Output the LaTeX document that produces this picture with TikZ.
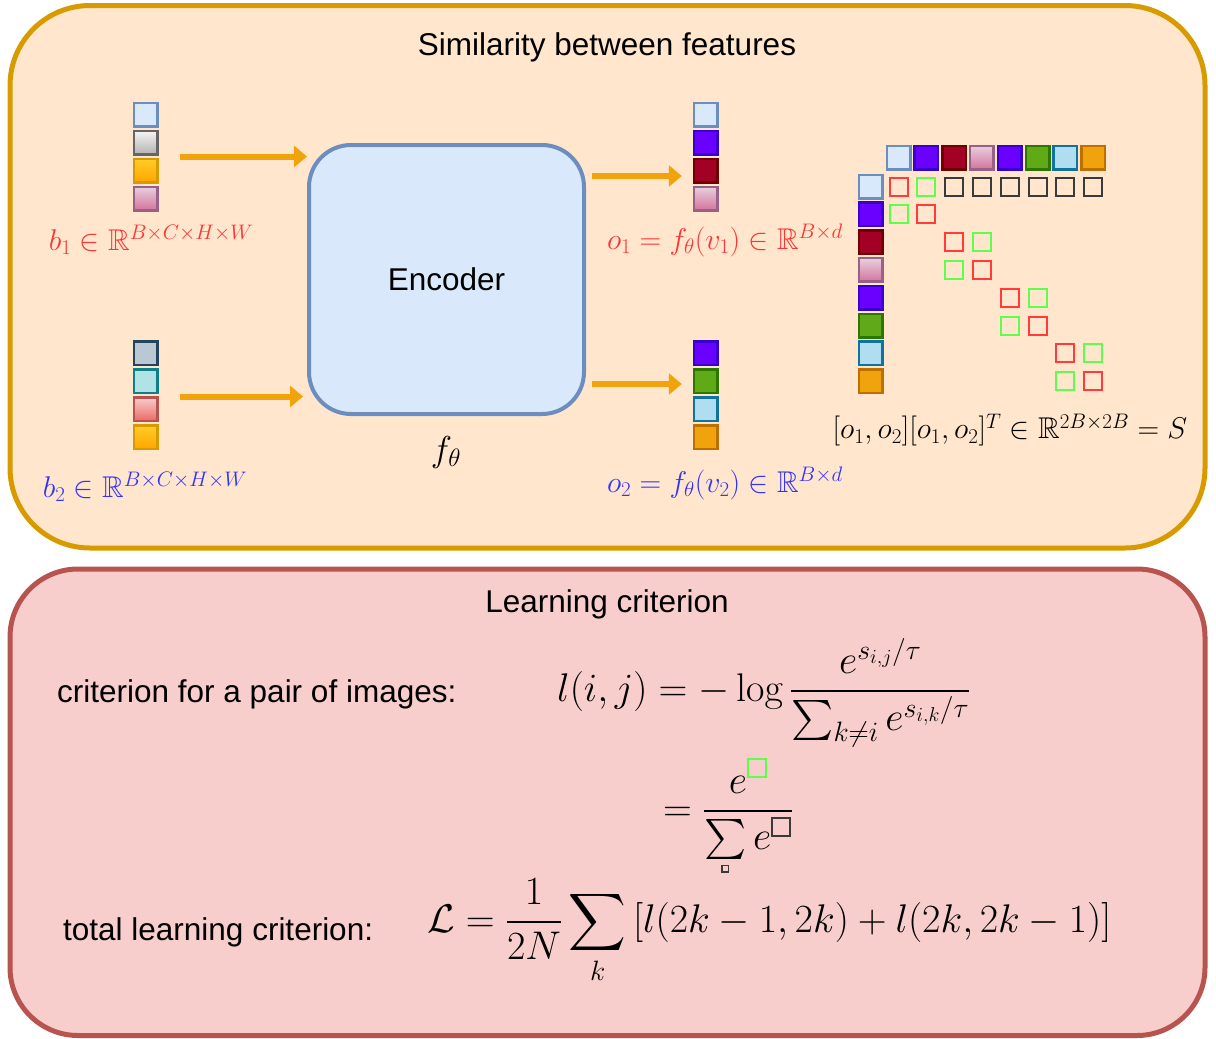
\documentclass[tikz,border=0pt]{standalone}
\usepackage{fix-cm}
\usepackage{amsmath,amssymb}
\usepackage[no-math]{fontspec}
\setmainfont{Liberation Sans}
\usetikzlibrary{arrows.meta}
\definecolor{topF}{HTML}{FFE6CC}\definecolor{topS}{HTML}{D79B00}
\definecolor{botF}{HTML}{F8CECC}\definecolor{botS}{HTML}{B85450}
\definecolor{encF}{HTML}{DAE8FC}\definecolor{encS}{HTML}{6C8EBF}
\definecolor{arrC}{HTML}{F0A30A}
\definecolor{labR}{HTML}{FF3333}\definecolor{labB}{HTML}{3333FF}
\definecolor{sqG}{HTML}{5CFF4C}\definecolor{sqR}{HTML}{FF3B3B}\definecolor{sqK}{HTML}{3A3A3A}
\newcommand\boxsq[3]{{\color{#1}\setlength\fboxrule{#3}\setlength\fboxsep{0pt}\fbox{\rule{0pt}{#2}\rule{#2}{0pt}}}}
\tikzset{
  panel/.style={rounded corners=#1, line width=5pt},
  cell/.style={draw, line width=2.5pt, minimum size=23.5pt, inner sep=0pt, outer sep=0pt},
  cBlue/.style={cell, fill=encF, draw=encS},
  cGray/.style={cell, top color=white!96!black, bottom color=black!30, draw=black!60},
  cOrange/.style={cell, top color={rgb,255:red,255;green,205;blue,40}, bottom color={rgb,255:red,255;green,165;blue,0}, draw=topS},
  cPink/.style={cell, top color={rgb,255:red,230;green,208;blue,222}, bottom color={rgb,255:red,213;green,115;blue,157}, draw={rgb,255:red,153;green,97;blue,133}},
  cSlate/.style={cell, fill={rgb,255:red,186;green,200;blue,211}, draw={rgb,255:red,35;green,68;blue,93}},
  cTeal/.style={cell, fill={rgb,255:red,176;green,227;blue,230}, draw={rgb,255:red,14;green,128;blue,136}},
  cRed/.style={cell, top color=botF, bottom color={rgb,255:red,234;green,107;blue,102}, draw=botS},
  cViolet/.style={cell, fill={rgb,255:red,106;green,0;blue,255}, draw={rgb,255:red,55;green,0;blue,204}},
  cCrimson/.style={cell, fill={rgb,255:red,162;green,0;blue,37}, draw={rgb,255:red,111;green,0;blue,0}},
  cGreen/.style={cell, fill={rgb,255:red,96;green,169;blue,23}, draw={rgb,255:red,45;green,118;blue,0}},
  cLight/.style={cell, fill={rgb,255:red,177;green,221;blue,240}, draw={rgb,255:red,16;green,115;blue,158}},
  cAmber/.style={cell, fill=arrC, draw={rgb,255:red,189;green,112;blue,0}},
  msq/.style={draw=#1, line width=2pt, minimum size=18pt, inner sep=0pt},
  arr/.style={draw=arrC, line width=6pt, -{Triangle[length=13pt,width=21pt]}},
  ttl/.style={font=\fontsize{31.5}{36}\selectfont, inner sep=0pt},
  lab/.style={font=\fontsize{30}{36}\selectfont, inner sep=0pt},
  fml/.style={font=\fontsize{40}{48}\selectfont, inner sep=0pt},
}
\begin{document}
\begin{tikzpicture}[x=1pt,y=-1pt]
\useasboundingbox (0,0) rectangle (1216,1039);
% panels
\draw[panel=80pt, draw=topS, fill=topF] (10,5.5) rectangle (1205,548);
\draw[panel=68pt, draw=botS, fill=botF] (10,569) rectangle (1205,1035.5);
\node[ttl] (t1) at (607,47) {Similarity between features};
\node[ttl] (t2) at (607,604) {Learning criterion};
% encoder
\node[draw=encS, fill=encF, line width=4pt, rounded corners=42pt, minimum width=275pt, minimum height=269pt, ttl] (enc) at (446.5,279.5) {Encoder};
\node[font=\fontsize{36}{42}\selectfont, inner sep=0pt] (ft) at (446,452) {$f_\theta$};
% input b1
\node[cBlue]   (b1a) at (145.5,114.5) {};
\node[cGray]   (b1b) at (145.5,142.5) {};
\node[cOrange] (b1c) at (145.5,170.5) {};
\node[cPink]   (b1d) at (145.5,198.5) {};
% input b2
\node[cSlate]  (b2a) at (145.5,353) {};
\node[cTeal]   (b2b) at (145.5,381) {};
\node[cRed]    (b2c) at (145.5,409) {};
\node[cOrange] (b2d) at (145.5,437) {};
% output o1
\node[cBlue]    (o1a) at (705.5,114.5) {};
\node[cViolet]  (o1b) at (705.5,142.5) {};
\node[cCrimson] (o1c) at (705.5,170.5) {};
\node[cPink]    (o1d) at (705.5,198.5) {};
% output o2
\node[cViolet] (o2a) at (705.5,353) {};
\node[cGreen]  (o2b) at (705.5,381) {};
\node[cLight]  (o2c) at (705.5,409) {};
\node[cAmber]  (o2d) at (705.5,437) {};
% arrows
\coordinate (b1m) at (145.5,156.5);
\coordinate (b2m) at (145.5,396.5);
\draw[arr, shorten <=34pt] (b1m) -- (b1m -| enc.west);
\draw[arr, shorten <=34pt, shorten >=4pt] (b2m) -- (b2m -| enc.west);
\coordinate (e1) at (446.5,176);
\coordinate (e2) at (446.5,384);
\draw[arr, shorten <=145pt, shorten >=12pt] (e1) -- (e1 -| o1a.west);
\draw[arr, shorten <=145pt, shorten >=12pt] (e2) -- (e2 -| o2a.west);
% labels
\node[lab, text=labR] (lb1) at (151,240) {$b_1\in\mathbb{R}^{B\times C\times H\times W}$};
\node[lab, text=labB] (lb2) at (145,487) {$b_2\in\mathbb{R}^{B\times C\times H\times W}$};
\node[lab, text=labR] (lo1) at (725,240) {$o_1=f_\theta(v_1)\in\mathbb{R}^{B\times d}$};
\node[lab, text=labB] (lo2) at (725,483) {$o_2=f_\theta(v_2)\in\mathbb{R}^{B\times d}$};
% similarity matrix: header row and column
\foreach \s [count=\i from 0] in {cBlue,cViolet,cCrimson,cPink,cViolet,cGreen,cLight,cAmber}{
  \node[\s] (h\i) at (898.5+27.8*\i,157.5) {};
  \node[\s] (v\i) at (870.5,186.5+27.8*\i) {};
}
% cells
\foreach \r/\c/\k in {0/0/sqR,0/1/sqG,0/2/sqK,0/3/sqK,0/4/sqK,0/5/sqK,0/6/sqK,0/7/sqK,
  1/0/sqG,1/1/sqR,2/2/sqR,2/3/sqG,3/2/sqG,3/3/sqR,4/4/sqR,4/5/sqG,5/4/sqG,5/5/sqR,
  6/6/sqR,6/7/sqG,7/6/sqG,7/7/sqR}{
  \node[msq=\k] (m\r\c) at (h\c |- v\r) {};
}
\node[lab] (lS) at (1010,430) {$[o_1,o_2][o_1,o_2]^T\in\mathbb{R}^{2B\times 2B}=S$};
% learning criterion
\node[ttl, anchor=west] (c1) at (57,694) {criterion for a pair of images:};
\node[fml, anchor=base west] (f1) at (557,701) {$\displaystyle l(i,j)=-\log\frac{e^{s_{i,j}/\tau}}{\sum_{k\neq i}e^{s_{i,k}/\tau}}$};
\node[fml, anchor=base west] (f2) at (663,821) {$\displaystyle =\frac{e^{\raisebox{3pt}{\boxsq{sqG}{16pt}{2pt}}}}{\sum\limits_{\smash{\raisebox{12pt}{\boxsq{sqK}{5pt}{1.5pt}}}}e^{\raisebox{3pt}{\boxsq{sqK}{16pt}{2pt}}}}$};
\node[ttl, anchor=west] (c2) at (63,932) {total learning criterion:};
\node[fml, anchor=base west] (f3) at (427,932) {$\displaystyle \mathcal{L}=\frac{1}{2N}\sum_k\,[l(2k-1,2k)+l(2k,2k-1)]$};
\end{tikzpicture}
\end{document}
